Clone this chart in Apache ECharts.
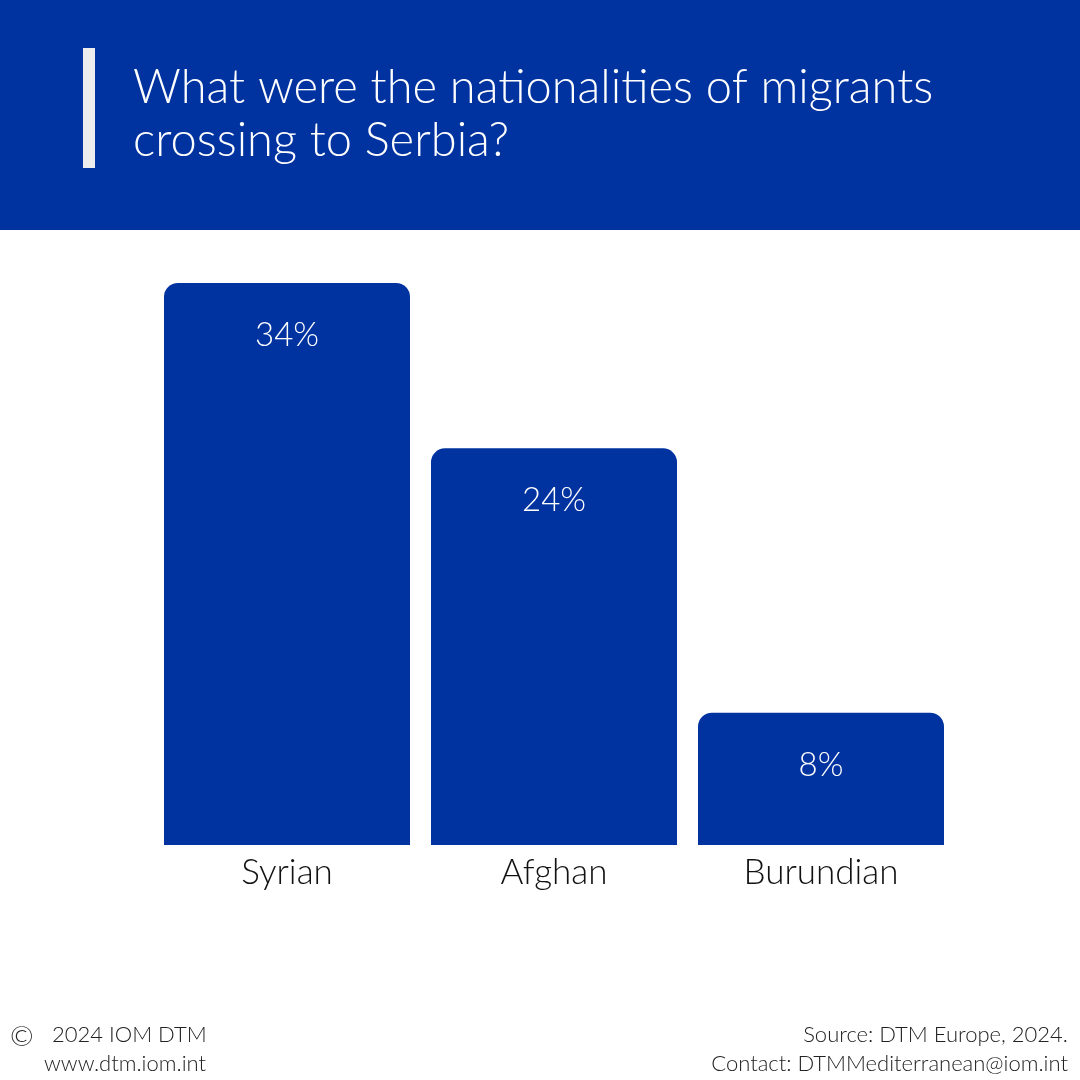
<!DOCTYPE html>
<html>
<head>
<meta charset="utf-8">
<script src="https://cdn.jsdelivr.net/npm/echarts@6/dist/echarts.min.js"></script>
<style>
  html, body { margin: 0; padding: 0; background: #fff; }
  #main { width: 1080px; height: 1080px; }
</style>
</head>
<body>
<div id="main"></div>
<script>
var categories = ['Syrian', 'Afghan', 'Burundian'];
var shares = [34, 24, 8];
var titleLines = 'What were the nationalities of migrants\ncrossing to Serbia?';

var blue = '#0033A0';
var font = 'Lato';

var chart = echarts.init(document.getElementById('main'));

var option = {
    backgroundColor: '#fff',
    graphic: [
        { type: 'rect', shape: { x: 0, y: 0, width: 1080, height: 230 }, style: { fill: blue } },
        { type: 'rect', shape: { x: 83, y: 48, width: 12, height: 120 }, style: { fill: '#EDEDED' } },
        { type: 'text', left: 133, top: 61, style: { text: titleLines, fill: '#fff', font: '300 47px ' + font, lineHeight: 53 } },
        { type: 'text', left: 10, top: 1023, style: { text: '\u00A9', fill: '#222', font: '300 28px ' + font } },
        { type: 'text', left: 52, top: 1024, style: { text: '2024 IOM DTM', fill: '#222', font: '300 22px ' + font } },
        { type: 'text', left: 44, top: 1053, style: { text: 'www.dtm.iom.int', fill: '#222', font: '300 22px ' + font } },
        { type: 'text', right: 12, top: 1024, style: { text: 'Source: DTM Europe, 2024.', fill: '#222', font: '300 22px ' + font, align: 'right' } },
        { type: 'text', right: 12, top: 1053, style: { text: 'Contact: DTMMediterranean@iom.int', fill: '#222', font: '300 22px ' + font, align: 'right' } }
    ],
    grid: { left: 153.5, width: 801, top: 283, bottom: 235 },
    xAxis: {
        type: 'category',
        data: categories,
        axisLine: { show: false },
        axisTick: { show: false },
        axisLabel: { color: '#111', fontFamily: font, fontWeight: 300, fontSize: 35, margin: 10 }
    },
    yAxis: { type: 'value', min: 0, max: 34, show: false, splitLine: { show: false } },
    series: [{
        type: 'bar',
        data: shares,
        barWidth: 246,
        itemStyle: { color: blue, borderRadius: [14, 14, 0, 0] },
        label: {
            show: true,
            position: 'insideTop',
            distance: 36,
            formatter: '{c}%',
            color: '#fff',
            fontFamily: font,
            fontWeight: 300,
            fontSize: 33
        }
    }]
};

chart.setOption(option);
</script>
</body>
</html>
